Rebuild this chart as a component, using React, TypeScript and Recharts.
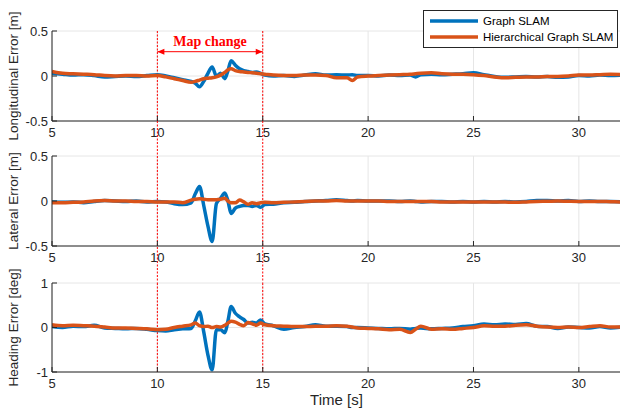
import { LineChart, Line, XAxis, YAxis, CartesianGrid, ReferenceLine, Label } from 'recharts';

// time stamps [s]
const time = [
  5, 5.5, 6, 6.5, 7, 7.5, 8, 8.5, 9, 9.5, 10,
  10.4, 10.8, 11.2, 11.6, 11.8, 12.0, 12.2, 12.4, 12.6, 12.8, 13.0,
  13.2, 13.35, 13.5, 13.7, 13.9, 14.1, 14.3, 14.5, 14.7, 14.9, 15.1,
  15.5, 16, 16.5, 17, 17.5, 18, 18.5, 19,
  19.25, 19.5, 20, 20.5, 21, 21.5, 22, 22.25, 22.5, 23,
  23.5, 24, 24.5, 25, 25.5, 26, 26.5, 27, 27.5, 28, 28.5, 29, 29.5, 30, 30.5, 31, 31.5, 32,
];

// longitudinal error [m]
const lonGraph = [
  0.03, 0.02, 0.01, 0.015, 0.005, -0.01, -0.005, 0.0, -0.005, 0.005, 0.015,
  0.0, -0.02, -0.04, -0.06, -0.08, -0.12, -0.06, 0.03, 0.1, 0.0, 0.03,
  -0.03, 0.06, 0.17, 0.12, 0.08, 0.06, 0.05, 0.04, 0.045, 0.03, 0.01,
  0.0, 0.005, -0.005, 0.01, 0.025, 0.01, 0.015, 0.01,
  0.015, 0.005, 0.005, 0.0, 0.01, 0.005, 0.01, -0.01, 0.015, 0.02,
  0.015, 0.02, 0.025, 0.035, 0.015, -0.005, -0.015, -0.01, -0.005, -0.01, -0.005, -0.015, -0.01, 0.005, 0.0, 0.01, 0.005, 0.01,
];
const lonHier = [
  0.05, 0.03, 0.025, 0.02, 0.015, 0.005, 0.0, 0.005, 0.005, 0.0, 0.005,
  -0.01, -0.03, -0.05, -0.07, -0.06, -0.045, -0.03, -0.025, -0.02, -0.01, 0.01,
  0.04, 0.07, 0.08, 0.06, 0.05, 0.045, 0.04, 0.035, 0.03, 0.025, 0.02,
  0.01, 0.005, 0.005, 0.01, 0.01, 0.005, -0.02, -0.02,
  -0.05, -0.01, 0.0, 0.005, 0.01, 0.015, 0.02, 0.025, 0.03, 0.035,
  0.025, 0.02, 0.02, 0.015, 0.005, -0.01, -0.02, -0.015, -0.01, -0.01, -0.005, -0.005, 0.0, 0.01, 0.01, 0.015, 0.02, 0.015,
];

// lateral error [m]
const latGraph = [
  -0.01, -0.015, -0.01, -0.02, -0.005, 0.005, 0.0, -0.005, 0.0, -0.01, -0.005,
  -0.01, -0.03, -0.04, -0.02, 0.08, 0.16, -0.05, -0.28, -0.45, -0.03, 0.03,
  0.09, 0.0, -0.14, -0.08, -0.06, -0.05, -0.05, -0.06, -0.05, -0.07, -0.04,
  -0.035, -0.02, -0.015, -0.005, 0.0, 0.005, 0.015, 0.005,
  0.0, 0.005, 0.0, 0.0, 0.0, -0.005, 0.0, -0.005, -0.01, -0.005,
  -0.005, -0.01, -0.005, -0.01, -0.005, -0.01, -0.005, -0.01, -0.005, 0.005, 0.005, 0.0, 0.005, -0.005, 0.0, -0.005, -0.005, -0.01,
];
const latHier = [
  -0.02, -0.02, -0.015, -0.01, 0.0, 0.005, 0.0, 0.0, -0.005, -0.005, -0.01,
  -0.01, -0.01, -0.02, 0.01, 0.02, 0.025, 0.02, 0.015, 0.015, 0.015, 0.02,
  0.03, 0.0, -0.02, -0.02, 0.01, -0.01, -0.035, -0.02, -0.03, -0.02, -0.015,
  -0.02, -0.015, -0.01, -0.005, 0.0, 0.0, 0.005, 0.0,
  0.0, 0.0, 0.0, 0.0, -0.005, -0.005, -0.005, -0.005, -0.005, -0.005,
  -0.01, -0.01, -0.01, -0.01, -0.01, -0.01, -0.012, -0.015, -0.01, -0.005, -0.003, 0.0, -0.003, -0.005, -0.005, -0.005, -0.008, -0.01,
];

// heading error [deg]
const headGraph = [
  0.02, 0.0, 0.03, 0.02, 0.05, -0.01, -0.02, -0.03, -0.02, -0.04, -0.07,
  -0.08, -0.05, -0.03, -0.02, 0.15, 0.35, -0.1, -0.62, -0.95, -0.05, -0.05,
  -0.12, 0.15, 0.47, 0.32, 0.24, 0.18, 0.1, 0.12, 0.1, 0.17, 0.08,
  0.04, -0.04, 0.0, 0.02, 0.06, 0.03, 0.03, 0.02,
  0.0, 0.0, -0.01, -0.02, -0.03, -0.02, -0.04, -0.02, -0.01, -0.03,
  -0.02, -0.01, 0.02, 0.04, 0.08, 0.06, 0.08, 0.07, 0.09, 0.03, 0.02, -0.02, 0.01, 0.0, -0.01, 0.02, -0.01, 0.01,
];
const headHier = [
  0.06, 0.04, 0.05, 0.04, 0.03, 0.01, -0.01, -0.01, -0.02, -0.03, -0.05,
  -0.04, 0.0, 0.03, 0.06, 0.1, 0.04, 0.02, 0.03, 0.0, 0.02, 0.01,
  0.05, 0.1, 0.14, 0.12, 0.07, 0.04, 0.11, 0.08, 0.05, 0.1, 0.06,
  0.04, 0.03, 0.02, 0.02, 0.03, 0.03, 0.04, 0.03,
  0.01, -0.01, -0.02, -0.03, -0.05, -0.04, -0.11, -0.04, 0.03, -0.04,
  -0.03, -0.04, -0.02, 0.0, 0.04, 0.03, 0.03, 0.05, 0.06, 0.03, 0.01, 0.0, 0.01, 0.0, 0.02, 0.04, 0.01, 0.01,
];

const seriesNames = ['Graph SLAM', 'Hierarchical Graph SLAM'];
const xTicks = [5, 10, 15, 20, 25, 30];
const mapChange = [10, 15];
const mapChangeText = 'Map change';
const arrowY = 0.27;

const BLUE = '#0072BD';
const ORANGE = '#D95319';
const INK = '#262626';
const RED = '#FF0000';
const FONT = '"Liberation Sans", Arial, sans-serif';

const rows = time.map((t, i) => ({
  t,
  lonGraph: lonGraph[i],
  lonHier: lonHier[i],
  latGraph: latGraph[i],
  latHier: latHier[i],
  headGraph: headGraph[i],
  headHier: headHier[i],
}));

function XTick({ x, y, payload }: any) {
  return (
    <g>
      <line x1={x} x2={x} y1={y} y2={y - 5} stroke={INK} />
      <text x={x} y={y + 16} textAnchor="middle" fontSize={13} fill={INK} fontFamily={FONT}>
        {payload.value}
      </text>
    </g>
  );
}

function YTick({ x, y, payload }: any) {
  return (
    <g>
      <line x1={x} x2={x + 5} y1={y} y2={y} stroke={INK} />
      <text x={x - 4} y={y + 4.5} textAnchor="end" fontSize={13} fill={INK} fontFamily={FONT}>
        {payload.value}
      </text>
    </g>
  );
}

const dotted = (up: number, down: number) => (p: any) => {
  const top = Math.min(p.y1, p.y2) - up;
  const bottom = Math.max(p.y1, p.y2) + down;
  return <line x1={p.x1} x2={p.x1} y1={top} y2={bottom} stroke={RED} strokeWidth={1} strokeDasharray="2 1.5" />;
};

function Arrow(p: any) {
  const xa = Math.min(p.x1, p.x2);
  const xb = Math.max(p.x1, p.x2);
  const y = p.y1;
  return (
    <g>
      <line x1={xa} x2={xb} y1={y} y2={y} stroke={RED} strokeWidth={1} />
      <path d={`M${xa},${y} l7,-3 v6 z`} fill={RED} />
      <path d={`M${xb},${y} l-7,-3 v6 z`} fill={RED} />
    </g>
  );
}

interface PanelProps {
  top: number;
  marginTop: number;
  marginBottom: number;
  plotHeight: number;
  xAxisHeight: number;
  keys: [string, string];
  domain: [number, number];
  yTicks: number[];
  title: string;
  ext: [number, number];
  xTitle?: string;
  annotate?: boolean;
}

function Panel(props: PanelProps) {
  const { top, marginTop, marginBottom, plotHeight, xAxisHeight, keys, domain, yTicks, title, ext, xTitle, annotate } = props;
  const height = marginTop + plotHeight + xAxisHeight + marginBottom;
  return (
    <div style={{ position: 'absolute', left: 0, top }}>
      <LineChart width={622} height={height} data={rows} margin={{ top: marginTop, right: 1, left: 0, bottom: marginBottom }}>
        <CartesianGrid stroke="#E6E6E6" />
        <XAxis
          dataKey="t"
          type="number"
          domain={[5, 32]}
          ticks={xTicks}
          allowDataOverflow
          height={xAxisHeight}
          axisLine={{ stroke: INK }}
          tickLine={false}
          tickSize={0}
          tickMargin={0}
          tick={<XTick />}
        >
          {xTitle && (
            <Label
              content={({ viewBox }: any) => (
                <text
                  x={viewBox.x + viewBox.width / 2}
                  y={viewBox.y + 33}
                  textAnchor="middle"
                  fontSize={15}
                  fill={INK}
                  fontFamily={FONT}
                >
                  {xTitle}
                </text>
              )}
            />
          )}
        </XAxis>
        <YAxis
          type="number"
          domain={domain}
          ticks={yTicks}
          width={52}
          axisLine={{ stroke: INK }}
          tickLine={false}
          tickSize={0}
          tickMargin={0}
          tick={<YTick />}
        >
          <Label
            content={({ viewBox }: any) => {
              const cy = viewBox.y + viewBox.height / 2;
              return (
                <text
                  x={13}
                  y={cy}
                  transform={`rotate(-90 13 ${cy})`}
                  textAnchor="middle"
                  dominantBaseline="central"
                  fontSize={13.5}
                  fill={INK}
                  fontFamily={FONT}
                >
                  {title}
                </text>
              );
            }}
          />
        </YAxis>
        {mapChange.map((m) => (
          <ReferenceLine key={m} x={m} shape={dotted(ext[0], ext[1])} />
        ))}
        {annotate && (
          <ReferenceLine
            segment={[
              { x: mapChange[0], y: arrowY },
              { x: mapChange[1], y: arrowY },
            ]}
            shape={Arrow}
            label={{
              value: mapChangeText,
              position: 'top',
              offset: 6,
              fill: RED,
              fontSize: 14,
              fontWeight: 'bold',
              fontFamily: '"Liberation Serif", "Times New Roman", serif',
            }}
          />
        )}
        <Line type="monotone" dataKey={keys[0]} stroke={BLUE} strokeWidth={3.5} dot={false} isAnimationActive={false} />
        <Line type="monotone" dataKey={keys[1]} stroke={ORANGE} strokeWidth={3.5} dot={false} isAnimationActive={false} />
      </LineChart>
    </div>
  );
}

function LegendBox() {
  return (
    <svg width={196} height={40} style={{ position: 'absolute', left: 423, top: 10 }}>
      <rect x={0.5} y={0.5} width={194} height={37} fill="#fff" stroke={INK} strokeWidth={1} />
      <line x1={7} x2={55} y1={11} y2={11} stroke={BLUE} strokeWidth={3.5} />
      <line x1={7} x2={55} y1={27} y2={27} stroke={ORANGE} strokeWidth={3.5} />
      <text x={60} y={15} fontSize={11.5} fill="#000" fontFamily={FONT}>
        {seriesNames[0]}
      </text>
      <text x={60} y={31} fontSize={11.5} fill="#000" fontFamily={FONT}>
        {seriesNames[1]}
      </text>
    </svg>
  );
}

export default function App() {
  return (
    <div
      style={{
        position: 'fixed',
        left: 0,
        top: 0,
        width: 620,
        height: 413,
        overflow: 'hidden',
        background: '#fff',
        fontFamily: FONT,
      }}
    >
      <Panel
        top={0}
        marginTop={31}
        marginBottom={0}
        plotHeight={90}
        xAxisHeight={20}
        keys={['lonGraph', 'lonHier']}
        domain={[-0.5, 0.5]}
        yTicks={[-0.5, 0, 0.5]}
        title="Longitudinal Error [m]"
        ext={[0, 0]}
        annotate
      />
      <Panel
        top={115}
        marginTop={41}
        marginBottom={17}
        plotHeight={90}
        xAxisHeight={20}
        keys={['latGraph', 'latHier']}
        domain={[-0.5, 0.5]}
        yTicks={[-0.5, 0, 0.5]}
        title="Lateral Error [m]"
        ext={[35, 37]}
      />
      <Panel
        top={252}
        marginTop={31}
        marginBottom={0}
        plotHeight={89}
        xAxisHeight={41}
        keys={['headGraph', 'headHier']}
        domain={[-1, 1]}
        yTicks={[-1, 0, 1]}
        title="Heading Error [deg]"
        ext={[0, 0]}
        xTitle="Time [s]"
      />
      <LegendBox />
    </div>
  );
}
